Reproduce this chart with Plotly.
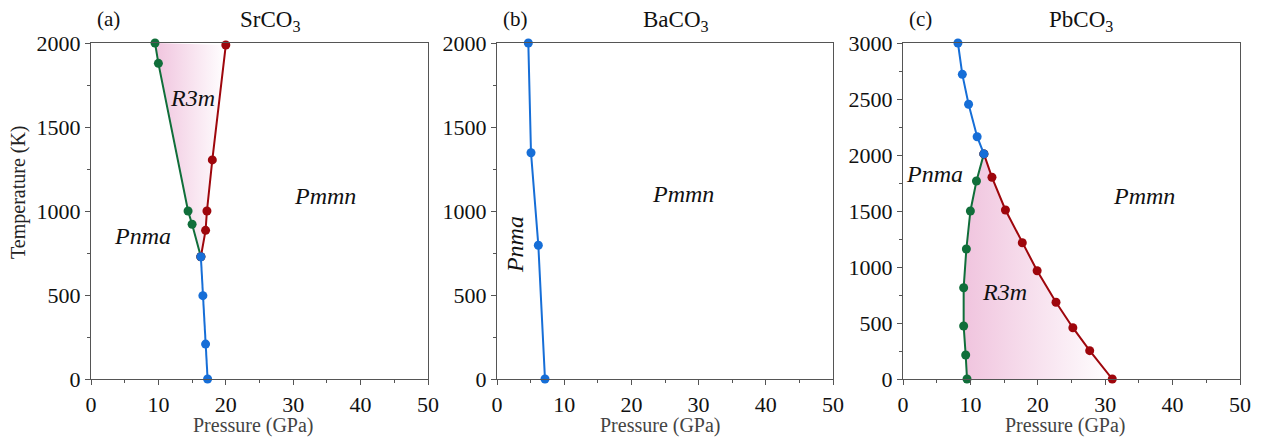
import plotly.graph_objects as go

W, H = 1269, 439

# ---------------- data ----------------
# (a) SrCO3
sr_green_p = [9.5, 10.0, 14.4, 15.0, 16.3]
sr_green_t = [2000, 1879, 1000, 921, 728]
sr_red_p = [16.3, 17.0, 17.2, 18.0, 20.0]
sr_red_t = [728, 885, 1000, 1304, 1988]
sr_blue_p = [16.3, 16.6, 17.0, 17.3]
sr_blue_t = [728, 496, 208, 0]

# (b) BaCO3
ba_blue_p = [4.66, 5.06, 6.15, 7.14]
ba_blue_t = [2000, 1347, 796, 0]

# (c) PbCO3
pb_blue_p = [8.15, 8.8, 9.73, 11.0, 12.0]
pb_blue_t = [3000, 2720, 2453, 2163, 2010]
pb_green_p = [12.0, 10.9, 10.0, 9.4, 9.0, 9.0, 9.3, 9.5]
pb_green_t = [2010, 1768, 1500, 1161, 815, 473, 214, 0]
pb_red_p = [12.0, 13.2, 15.2, 17.7, 19.9, 22.7, 25.2, 27.7, 31.05]
pb_red_t = [2010, 1801, 1509, 1217, 967, 685, 458, 253, 0]

x_ticks = [0, 10, 20, 30, 40, 50]
y_ticks_ab = [0, 500, 1000, 1500, 2000]
y_ticks_c = [0, 500, 1000, 1500, 2000, 2500, 3000]

titles = ["SrCO<sub>3</sub>", "BaCO<sub>3</sub>", "PbCO<sub>3</sub>"]
letters = ["(a)", "(b)", "(c)"]

# ---------------- styling ----------------
FONT = "Liberation Serif"
GREEN = "rgb(16,110,58)"
RED = "rgb(158,6,12)"
BLUE = "rgb(22,110,215)"
AXC = "#555555"
PINK = [[0, "rgb(240,196,222)"], [1, "rgb(255,255,255)"]]

fig = go.Figure()

def line(px, ty, color, ax):
    fig.add_trace(go.Scatter(
        x=px, y=ty, mode="lines+markers", xaxis="x" + ax, yaxis="y" + ax,
        line=dict(color=color, width=2), marker=dict(color=color, size=9),
        cliponaxis=False, showlegend=False, hoverinfo="skip"))

def fill(fx, fy, ax):
    fig.add_trace(go.Scatter(
        x=fx, y=fy, mode="lines", fill="toself", xaxis="x" + ax, yaxis="y" + ax,
        line=dict(width=0, color="rgba(0,0,0,0)"),
        fillgradient=dict(type="horizontal", colorscale=PINK,
                          start=min(fx), stop=max(fx)),
        showlegend=False, hoverinfo="skip"))

# panel a: green runs top->bottom, red runs bottom->top
fill(sr_green_p + sr_red_p[1:], sr_green_t + sr_red_t[1:], "")
line(sr_green_p, sr_green_t, GREEN, "")
line(sr_red_p, sr_red_t, RED, "")
line(sr_blue_p, sr_blue_t, BLUE, "")
# panel b
line(ba_blue_p, ba_blue_t, BLUE, "2")
# panel c: both run top->bottom
fill(pb_green_p + pb_red_p[::-1], pb_green_t + pb_red_t[::-1], "3")
line(pb_green_p, pb_green_t, GREEN, "3")
line(pb_red_p, pb_red_t, RED, "3")
line(pb_blue_p, pb_blue_t, BLUE, "3")

ytop, ybot = 43, 379
ydom = [1 - ybot / H, 1 - ytop / H]
xdoms = [[91 / W, 428 / W], [497 / W, 833 / W], [903 / W, 1240 / W]]

def xaxis(dom):
    return dict(domain=dom, range=[0, 50], tickvals=x_ticks, ticks="outside",
                ticklen=5, tickcolor=AXC, showline=True, linecolor=AXC, linewidth=1.3,
                mirror=True, showgrid=False, zeroline=False,
                minor=dict(dtick=5, ticks="outside", ticklen=3, tickcolor=AXC),
                tickfont=dict(family=FONT, size=22, color="#111"), automargin=False)

def yaxis(anchor, rng, vals, dtick_minor):
    return dict(domain=ydom, range=rng, tickvals=vals, ticks="outside", anchor=anchor,
                ticklen=5, tickcolor=AXC, showline=True, linecolor=AXC, linewidth=1.3,
                mirror=True, showgrid=False, zeroline=False,
                minor=dict(dtick=dtick_minor, ticks="outside", ticklen=3, tickcolor=AXC),
                tickfont=dict(family=FONT, size=22, color="#111"), automargin=False)

layout = dict(
    width=W, height=H, margin=dict(l=0, r=0, t=0, b=0),
    plot_bgcolor="white", paper_bgcolor="white", showlegend=False,
    xaxis=dict(xaxis(xdoms[0]), anchor="y"),
    xaxis2=dict(xaxis(xdoms[1]), anchor="y2"),
    xaxis3=dict(xaxis(xdoms[2]), anchor="y3"),
    yaxis=yaxis("x", [0, 2000], y_ticks_ab, 250),
    yaxis2=yaxis("x2", [0, 2000], y_ticks_ab, 250),
    yaxis3=yaxis("x3", [0, 3000], y_ticks_c, 250),
)
fig.update_layout(**layout)

ann = []
def pann(text, px, py, size=20, color="#111", angle=0, xanchor="center"):
    ann.append(dict(text=text, x=px / W, y=1 - py / H, xref="paper", yref="paper",
                    showarrow=False, xanchor=xanchor, yanchor="middle", textangle=angle,
                    font=dict(family=FONT, size=size, color=color)))

# titles
title_x = [270, 676, 1081]
letter_x = [95, 501, 907]
for i in range(3):
    pann(letters[i], letter_x[i], 19, size=21, xanchor="left")
    pann(titles[i], title_x[i], 21, size=23)
    pann("Pressure (GPa)", [253, 660, 1065][i], 425, size=20, color="#444")
pann("Temperature (K)", 18, 192, size=20, color="#222", angle=-90)

fig.update_layout(annotations=ann)

# phase labels in data coordinates
def dlabel(text, p, t, ax, angle=0):
    fig.add_annotation(text="<i>" + text + "</i>", x=p, y=t, xref="x" + ax, yref="y" + ax,
                       showarrow=False, textangle=angle,
                       font=dict(family=FONT, size=24, color="#111"))

dlabel("R3m", 15.1, 1672, "")
dlabel("Pnma", 7.7, 851, "")
dlabel("Pmmn", 34.7, 1089, "")
dlabel("Pmmn", 27.7, 1101, "2")
dlabel("Pnma", 2.7, 798, "2", angle=-90)
dlabel("Pnma", 4.7, 1830, "3")
dlabel("Pmmn", 35.8, 1634, "3")
dlabel("R3m", 15.1, 777, "3")

fig.write_html("out.html", config={"displayModeBar": False},
               post_script="document.body.style.margin='0px';")
